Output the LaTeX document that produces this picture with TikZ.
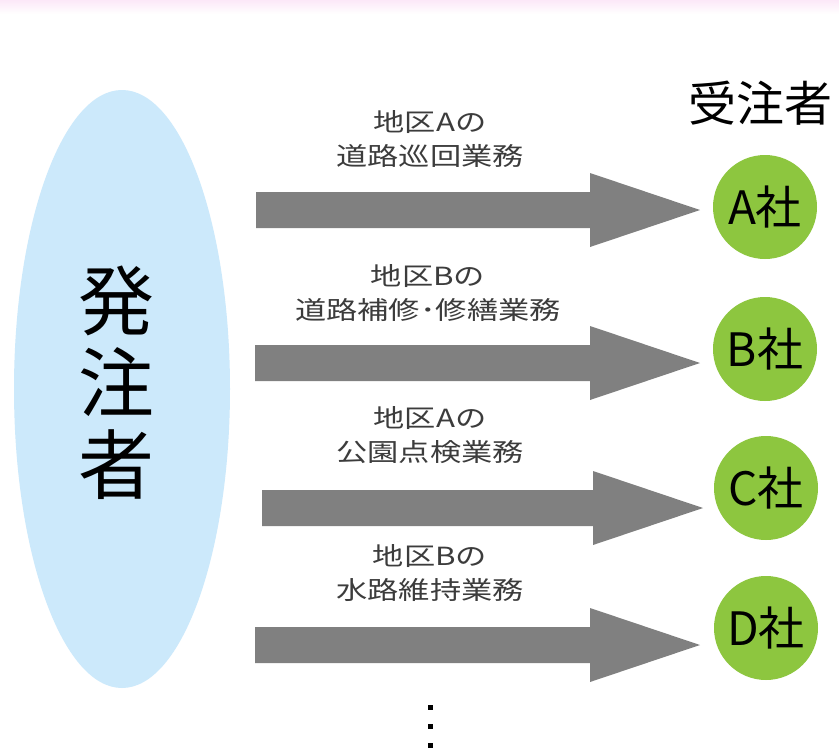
\documentclass[tikz,border=0pt]{standalone}
\usepackage{fontspec}
\setmainfont{Noto Sans CJK JP}
\newfontfamily\lblfont[FakeStretch=1.25]{Noto Sans CJK JP}
\usetikzlibrary{shapes.geometric,calc}
\definecolor{skyfill}{RGB}{204,233,251}
\definecolor{leaf}{RGB}{141,198,63}
\definecolor{arrowgray}{RGB}{128,128,128}
\definecolor{labelgray}{RGB}{60,60,60}
\definecolor{topband}{RGB}{252,232,248}
\newcommand\bigarrow[2]{\fill[arrowgray] ($(#1)+(0,-18)$) -- ($(#2)+(-110,-18)$) -- ($(#2)+(-110,-37)$) -- (#2) -- ($(#2)+(-110,37)$) -- ($(#2)+(-110,18)$) -- ($(#1)+(0,18)$) -- cycle;}
\tikzset{
  company/.style={circle, fill=leaf, minimum size=104pt, inner sep=0pt, font=\fontsize{46}{46}\selectfont, text=black},
  tasklabel/.style={align=center, text=labelgray, font=\lblfont\fontsize{25}{34}\selectfont, inner sep=0pt},
}
\begin{document}
\begin{tikzpicture}[x=1pt,y=-1pt]
\useasboundingbox (0,0) rectangle (839,750);
\fill[white] (0,0) rectangle (839,750);
\shade[top color=topband, bottom color=white] (0,0) rectangle (839,14);
% ordering party
\node[ellipse, fill=skyfill, minimum width=216pt, minimum height=598pt, inner sep=0pt] (hatchu) at (122,389) {};
\node[font=\fontsize{76}{82}\selectfont, align=center, inner sep=0pt] (hatchutext) at (116,383) {発\\注\\者};
% contractors
\node[font=\fontsize{48}{48}\selectfont, inner sep=0pt] (juchu) at (760,103) {受注者};
\node[company] (cA) at (765,207) {A社};
\node[company] (cB) at (765,349) {B社};
\node[company] (cC) at (766,488) {C社};
\node[company] (cD) at (766,628) {D社};
% arrows
\coordinate (s1) at (256,210); \coordinate (e1) at (700,210);
\coordinate (s2) at (255,363); \coordinate (e2) at (700,363);
\coordinate (s3) at (262,508); \coordinate (e3) at (703,508);
\coordinate (s4) at (255,645); \coordinate (e4) at (700,645);
\bigarrow{s1}{e1}
\bigarrow{s2}{e2}
\bigarrow{s3}{e3}
\bigarrow{s4}{e4}
% labels
\node[tasklabel] (t1) at (430,139) {地区Aの\\道路巡回業務};
\node[tasklabel] (t2) at (428,293) {地区Bの\\道路補修･修繕業務};
\node[tasklabel] (t3) at (430,435) {地区Aの\\公園点検業務};
\node[tasklabel] (t4) at (430,573) {地区Bの\\水路維持業務};
% continuation dots
\foreach \yy in {707,726,745} \fill[black] (427.5,\yy-2.5) rectangle (432.5,\yy+2.5);
\end{tikzpicture}
\end{document}
